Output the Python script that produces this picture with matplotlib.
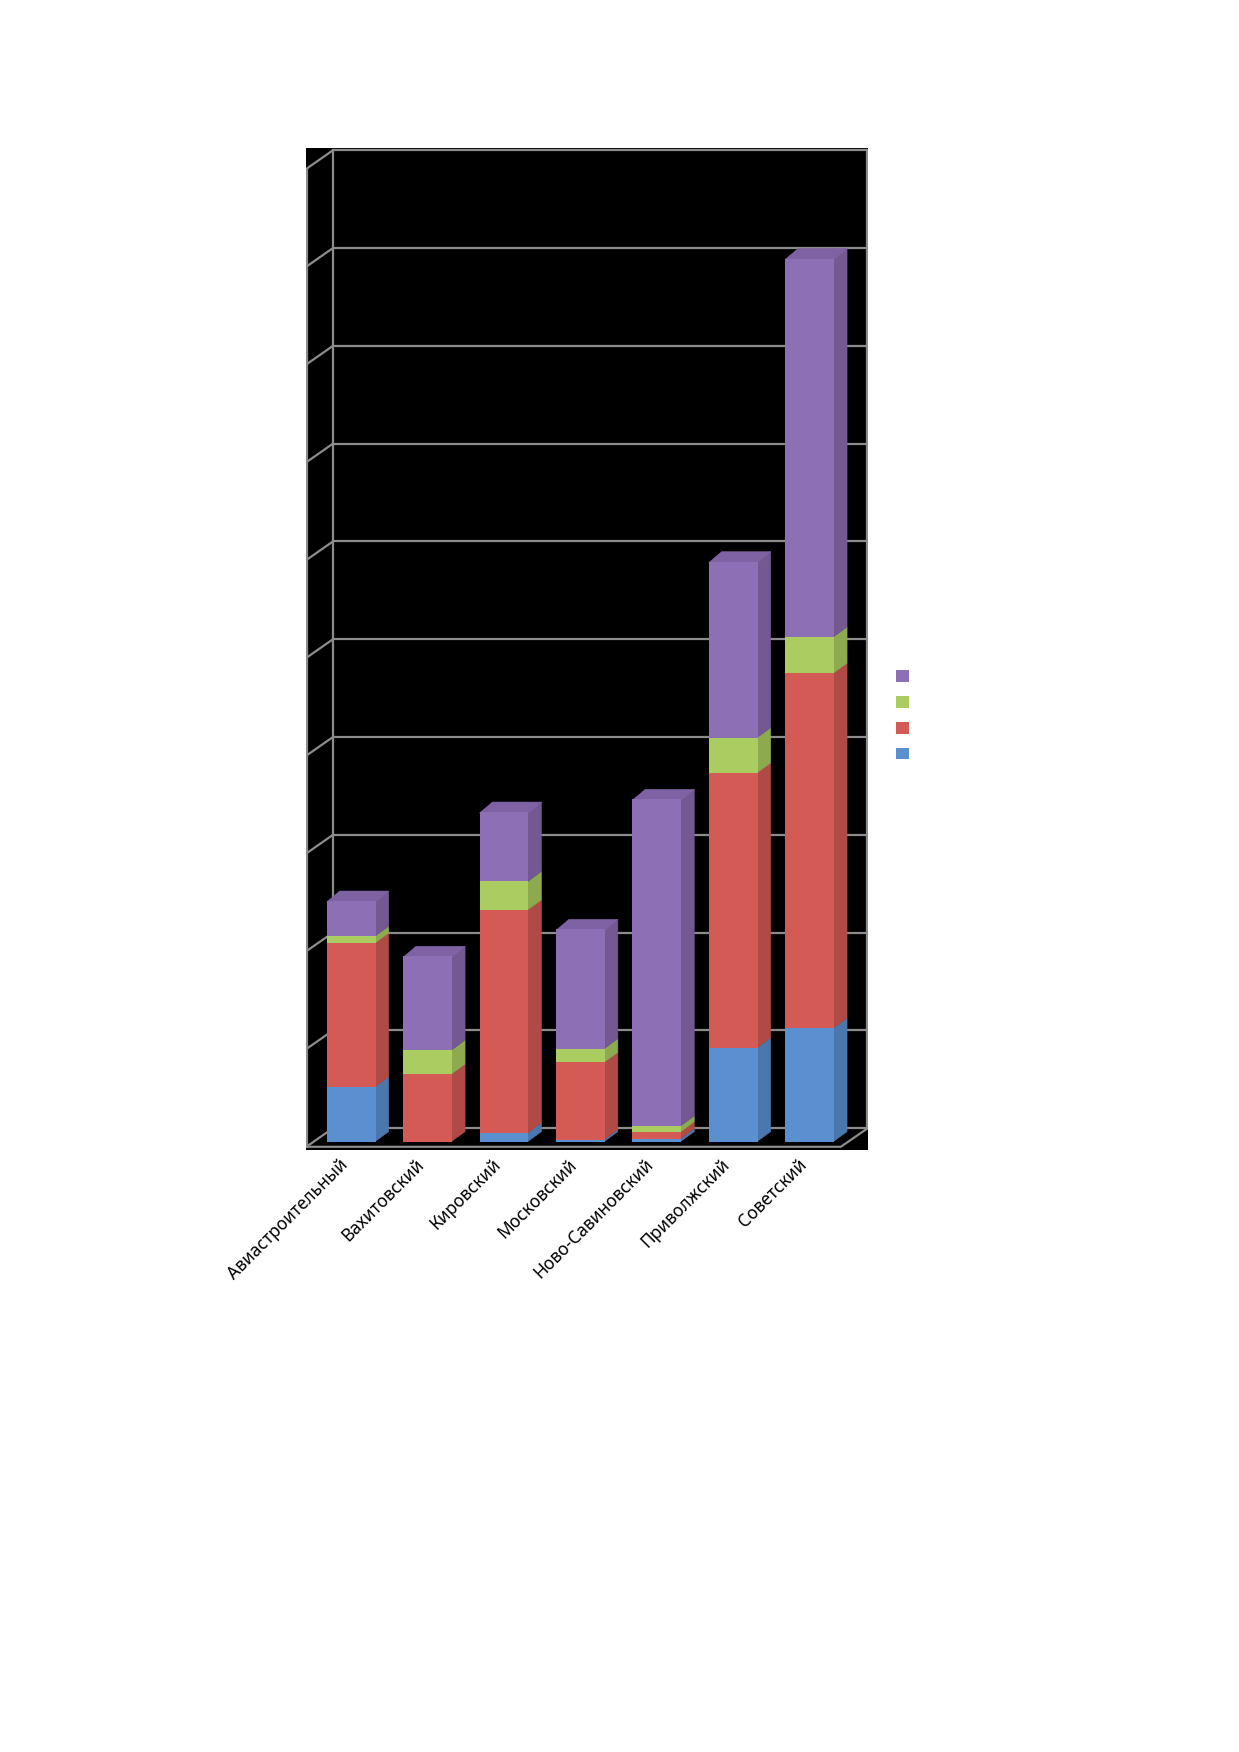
import matplotlib
matplotlib.use('Agg')
import matplotlib.pyplot as plt
from matplotlib.patches import Polygon, Patch

categories = ['Авиастроительный', 'Вахитовский', 'Кировский', 'Московский',
              'Ново-Савиновский', 'Приволжский', 'Советский']
series_blue = [0.56, 0.00, 0.09, 0.02, 0.03, 0.96, 1.16]
series_red = [1.47, 0.69, 2.28, 0.79, 0.07, 2.81, 3.63]
series_green = [0.07, 0.245, 0.29, 0.14, 0.06, 0.36, 0.37]
series_purple = [0.36, 0.96, 0.71, 1.22, 3.34, 1.80, 3.87]
gridlines = list(range(0, 11))

series = [series_blue, series_red, series_green, series_purple]
front_colors = ['#5A8FD0', '#D35A55', '#AACC60', '#8C6FB4']
side_colors = ['#4A77AE', '#AF4A47', '#8DAB4E', '#735892']
top_colors = ['#4F80BE', '#C0504D', '#9BBB59', '#7F62A3']

plt.rcParams['font.family'] = ['Noto Sans', 'DejaVu Sans']

fig = plt.figure(figsize=(12.39, 17.52), dpi=100)
fig.patch.set_facecolor('white')
ax = fig.add_axes([306 / 1239, 1 - 1150 / 1752, 562 / 1239, 1002 / 1752])
ax.set_facecolor('black')
XMAX = 562 / 76.4
ax.set_xlim(0, XMAX)
ax.set_ylim(-0.086, 10.16)
for s in ax.spines.values():
    s.set_visible(False)

# walls (3D frame)
dxw, dyw, base = 0.353, 0.19, 0.137
gc, glw = '#8C8C8C', 1.6
for k in gridlines:
    y = base + k
    ax.plot([dxw, XMAX - 0.01], [y, y], color=gc, lw=glw, zorder=1, solid_capstyle='butt')
    ax.plot([0.005, dxw], [y - dyw, y], color=gc, lw=glw, zorder=1)
top = base + gridlines[-1]
ax.plot([0.01, 0.01], [base - dyw, top - dyw], color=gc, lw=glw, zorder=1)
ax.plot([dxw, dxw], [base, top], color=gc, lw=glw, zorder=1)
ax.plot([XMAX - 0.01, XMAX - 0.01], [base, top], color=gc, lw=glw, zorder=1)
ax.plot([0.005, 7.0, 7.0 + dxw], [base - dyw, base - dyw, base], color=gc, lw=glw, zorder=1)

# bars
w, dx, dy = 0.641, 0.17, 0.102
x_left = [0.271 + i for i in range(len(categories))]
bottoms = [0.0] * len(categories)
for si, vals in enumerate(series):
    ax.bar(x_left, vals, width=w, bottom=bottoms, align='edge',
           color=front_colors[si], linewidth=0, zorder=10)
    new_b = []
    for i, (x0, b, v) in enumerate(zip(x_left, bottoms, vals)):
        if v > 0:
            side = Polygon([(x0 + w - 0.01, b), (x0 + w + dx, b + dy),
                            (x0 + w + dx, b + v + dy), (x0 + w - 0.01, b + v)],
                           closed=True, facecolor=side_colors[si],
                           edgecolor=side_colors[si], lw=0.4, zorder=5 + si)
            ax.add_patch(side)
        new_b.append(b + v)
    bottoms = new_b

for i, (x0, t) in enumerate(zip(x_left, bottoms)):
    topf = Polygon([(x0, t - 0.01), (x0 + dx, t + dy), (x0 + w + dx, t + dy), (x0 + w, t - 0.01)],
                   closed=True, facecolor=top_colors[3], edgecolor=top_colors[3],
                   lw=0.4, zorder=9)
    ax.add_patch(topf)

ax.set_yticks([])
ax.set_xticks([x + w / 2 - 0.16 for x in x_left])
ax.set_xticklabels(categories, rotation=45, ha='right', va='top',
                   rotation_mode='anchor', fontsize=12.5)
ax.tick_params(axis='x', length=0, pad=4)

handles = [Patch(facecolor=front_colors[i], edgecolor='none') for i in [3, 2, 1, 0]]
fig.legend(handles, ['', '', '', ''], loc='upper left',
           bbox_to_anchor=(896 / 1239, 1 - 670 / 1752), frameon=False,
           handlelength=0.9, handleheight=0.9, fontsize=10, labelspacing=0.78,
           borderpad=0, borderaxespad=0, handletextpad=0.3)

fig.savefig('out.png', dpi=100, facecolor='white')
